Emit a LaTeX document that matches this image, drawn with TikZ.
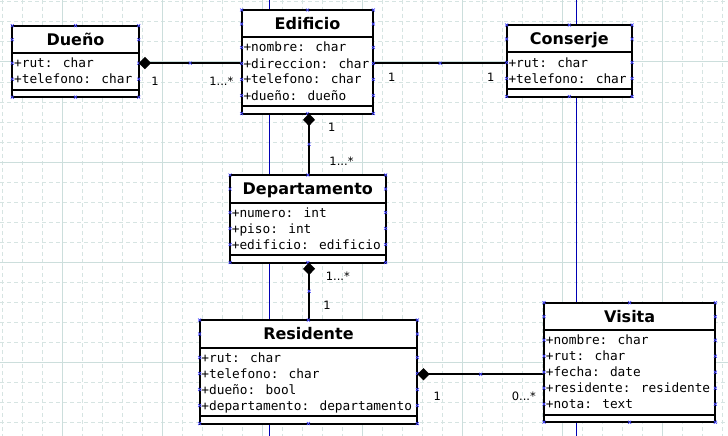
\documentclass[tikz,border=0pt]{standalone}
\usepackage{fontspec}
\newfontfamily\monof{DejaVu Sans Mono}
\newfontfamily\sansf{DejaVu Sans}
\usetikzlibrary{calc}
\definecolor{gridd}{RGB}{214,228,226}
\definecolor{grids}{RGB}{204,222,220}
\definecolor{guide}{RGB}{0,0,180}
\definecolor{cpc}{RGB}{70,70,255}
\pgfdeclarelayer{background}
\pgfsetlayers{background,main}
\tikzset{
 boxst/.style={draw=black, fill=white, line width=2pt, inner sep=0pt, outer sep=0pt, rectangle},
 sepst/.style={line width=2pt, black},
 titlest/.style={font=\sansf\bfseries\fontsize{16}{19}\selectfont, inner sep=0pt},
 attrst/.style={font=\monof\fontsize{12.8}{15}\selectfont, inner sep=0pt},
 labst/.style={font=\sansf\fontsize{11.5}{14}\selectfont, inner sep=0pt},
 conn/.style={line width=2pt, black},
 cpst/.style={cpc, line width=0.7pt},
 gridline/.style={gridd, line width=1pt, dash pattern=on 4pt off 3pt},
 gridmajor/.style={grids, line width=1pt},
 guideline/.style={guide, line width=1pt},
}
\newcommand\cpxat[1]{\draw[cpst] (#1) ++(-1.5,-1.5) -- ++(3,3) ++(-3,0) -- ++(3,-3);}
\newcommand\cpx[2]{\cpxat{#1,#2}}
\newcommand\umlbox[7]{%
 \pgfmathsetmacro\ubh{#4+27.5}%
 \pgfmathsetmacro\ubs{\ubh+16*#6+4.5}%
 \pgfmathsetmacro\ubb{\ubs+7.5}%
 \pgfmathsetmacro\ubw{#3-#2}%
 \pgfmathsetmacro\ubhh{\ubb-#4}%
 \pgfmathsetmacro\ubm{(#2+#3)/2}%
 \node[boxst, minimum width=\ubw pt, minimum height=\ubhh pt, anchor=north west] (#1) at (#2,#4) {};
 \draw[sepst] (#2,\ubh) -- (#3,\ubh);
 \draw[sepst] (#2,\ubs) -- (#3,\ubs);
 \node[titlest, anchor=base] (#1-t) at (\ubm,#4+19.5) {#5};
 \foreach \r [count=\i] in {#7} {\node[attrst, anchor=base west] (#1-r\i) at (#2+1.6,\ubh+14.5+16*\i-16) {\r};}
 \foreach \xx in {#2,\ubm,#3} {\cpx{\xx}{#4}\cpx{\xx}{\ubb}}
 \foreach \xx in {#2,#3} {\cpx{\xx}{#4+14}\foreach \j in {1,...,#6} {\cpx{\xx}{\ubh+10+16*\j-16}}}
}
\begin{document}
\begin{tikzpicture}[x=1pt,y=-1pt]
\useasboundingbox (0,0) rectangle (728,436);
\begin{pgfonlayer}{background}
\fill[white] (0,0) rectangle (728,436);
\foreach \k in {0,...,36} {\draw[gridline] (2+20*\k,0) -- (2+20*\k,436);}
\foreach \k in {0,...,21} {\draw[gridline] (0,2+20*\k) -- (728,2+20*\k);}
\foreach \k in {0,...,6} {\draw[gridmajor] (62+100*\k,0) -- (62+100*\k,436);}
\foreach \k in {0,...,3} {\draw[gridmajor] (0,62+100*\k) -- (728,62+100*\k);}
\draw[guideline] (269.5,0) -- (269.5,436);
\draw[guideline] (576.5,0) -- (576.5,436);
\end{pgfonlayer}

\umlbox{dueno}{12.3}{138.7}{25.7}{Dueño}{2}{+rut: char,+telefono: char}
\umlbox{edif}{241.7}{373.3}{10}{Edificio}{4}{+nombre: char,+direccion: char,+telefono: char,+dueño: dueño}
\umlbox{conserje}{506.7}{632}{25}{Conserje}{2}{+rut: char,+telefono: char}
\umlbox{dep}{230}{385.7}{175}{Departamento}{3}{+numero: int,+piso: int,+edificio: edificio}
\umlbox{res}{199.6}{417.3}{320}{Residente}{4}{+rut: char,+telefono: char,+dueño: bool,+departamento: departamento}
\umlbox{vis}{544}{715.3}{302.7}{Visita}{5}{+nombre: char,+rut: char,+fecha: date,+residente: residente,+nota: text}

\coordinate (c1a) at ([yshift=-1.6pt]dueno.east);
\coordinate (c1b) at (c1a -| edif.west);
\coordinate (c2a) at ([yshift=-1.5pt]edif.east);
\coordinate (c2b) at (c2a -| conserje.west);
\coordinate (c3a) at ([xshift=1.5pt]edif.south);
\coordinate (c3b) at (c3a |- dep.north);
\coordinate (c4a) at ([xshift=1.2pt]dep.south);
\coordinate (c4b) at (c4a |- res.north);
\coordinate (c5a) at ([yshift=-2.5pt]res.east);
\coordinate (c5b) at (c5a -| vis.west);

\begin{pgfonlayer}{background}
\draw[conn] (c1a) -- (c1b);
\draw[conn] (c2a) -- (c2b);
\draw[conn] (c3a) -- (c3b);
\draw[conn] (c4a) -- (c4b);
\draw[conn] (c5a) -- (c5b);
\end{pgfonlayer}
\fill[black] (c1a) -- ++(6.2,-6.2) -- ++(6.2,6.2) -- ++(-6.2,6.2) -- cycle;
\fill[black] (c5a) -- ++(6.2,-6.2) -- ++(6.2,6.2) -- ++(-6.2,6.2) -- cycle;
\fill[black] (c3a) -- ++(6,6.3) -- ++(-6,6.3) -- ++(-6,-6.3) -- cycle;
\fill[black] (c4a) -- ++(6,6.3) -- ++(-6,6.3) -- ++(-6,-6.3) -- cycle;

\cpxat{$(c1a)!0.5!(c1b)$}
\cpxat{$(c2a)!0.5!(c2b)$}
\cpxat{$(c3a)!0.5!(c3b)$}
\cpxat{$(c4a)!0.5!(c4b)$}
\cpxat{$(c5a)!0.5!(c5b)$}

\node[labst] (l1) at (155,81.5) {1};
\node[labst] (l2) at (221.3,81) {1...*};
\node[labst] (l3) at (391.7,77.7) {1};
\node[labst] (l4) at (490.7,77.7) {1};
\node[labst] (l5) at (331.7,127.7) {1};
\node[labst] (l6) at (341.5,161) {1...*};
\node[labst] (l7) at (337.8,276.7) {1...*};
\node[labst] (l8) at (327,305.3) {1};
\node[labst] (l9) at (437.3,396) {1};
\node[labst] (l10) at (523.8,396) {0...*};
\end{tikzpicture}
\end{document}
